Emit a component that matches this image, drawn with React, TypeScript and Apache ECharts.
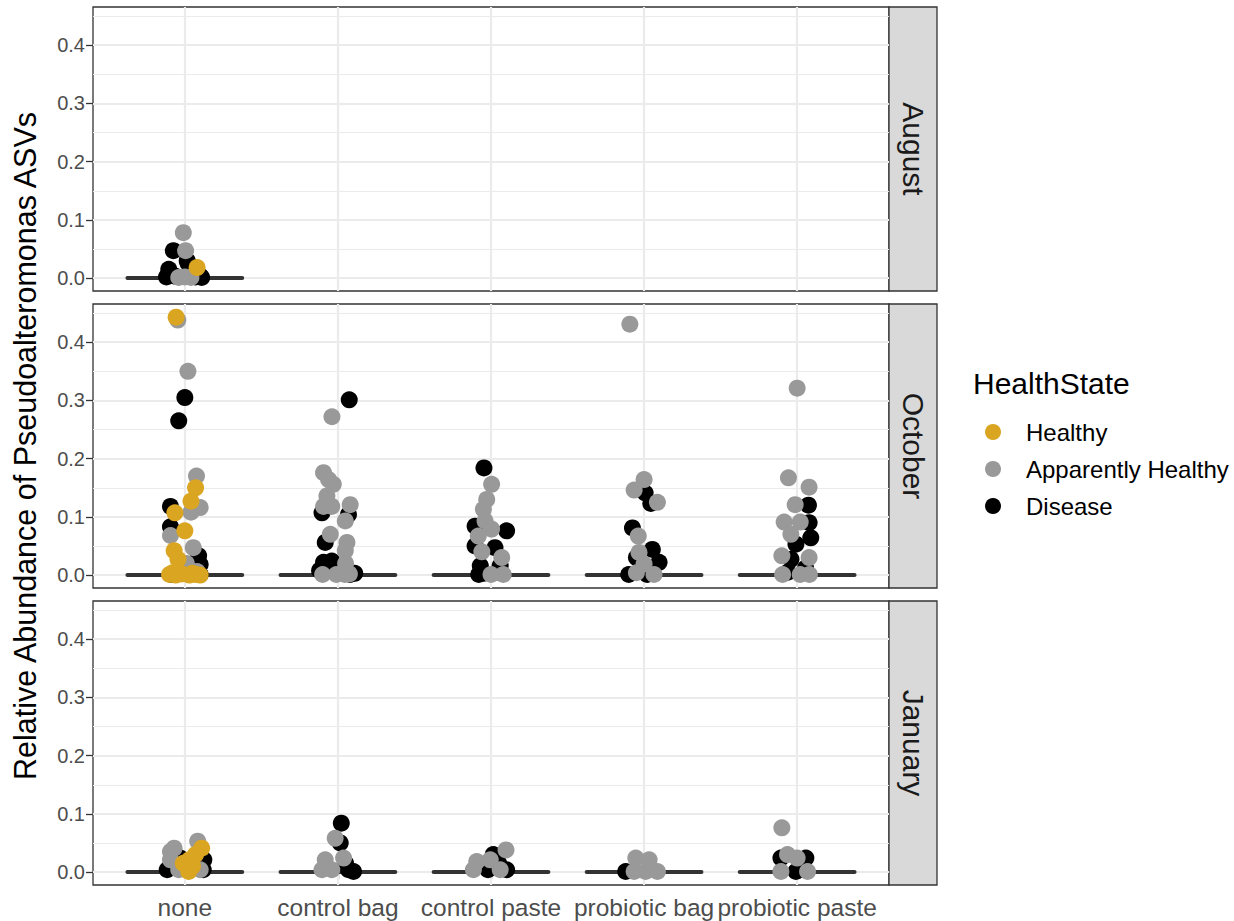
import React, { useEffect, useRef } from 'react';
import * as echarts from 'echarts';

const FONT = '"Liberation Sans", Arial, Helvetica, sans-serif';

const CATEGORIES = ['none', 'control bag', 'control paste', 'probiotic bag', 'probiotic paste'];
const MONTHS = ['August', 'October', 'January'];
const STATES = ['Healthy', 'Apparently Healthy', 'Disease'];
const STATE_COLORS: Record<string, string> = {
  'Healthy': '#DAA520',
  'Apparently Healthy': '#999999',
  'Disease': '#000000',
};
const Y_TICKS = [0, 0.1, 0.2, 0.3, 0.4];
const Y_MINOR = [0.05, 0.15, 0.25, 0.35, 0.45];

// Each point: [categoryIndex, horizontal jitter (category units), relative abundance]
const AUG_HEALTHY = [[0, 0.08, 0.018]];
const AUG_APPARENT = [[0, -0.01, 0.078], [0, 0.005, 0.047], [0, -0.04, 0.001], [0, 0.04, 0.001], [0, 0.0, 0.002]];
const AUG_DISEASE = [[0, -0.075, 0.047], [0, 0.015, 0.030], [0, 0.02, 0.026], [0, -0.105, 0.015], [0, -0.09, 0.006], [0, 0.1, 0.004], [0, -0.12, 0.002], [0, 0.11, 0.001], [0, -0.06, 0.003], [0, 0.07, 0.002]];

const OCT_HEALTHY = [
  [0, -0.057, 0.443], [0, 0.07, 0.150], [0, 0.04, 0.127], [0, -0.065, 0.107], [0, 0.0, 0.076], [0, -0.07, 0.042],
  [0, -0.045, 0.027], [0, -0.1, 0.001], [0, -0.06, 0.0], [0, -0.02, 0.002], [0, 0.03, 0.0], [0, 0.07, 0.001],
  [0, 0.1, 0.0], [0, -0.08, 0.004], [0, 0.05, 0.003],
];
const OCT_APPARENT = [
  [0, -0.046, 0.438], [0, 0.02, 0.350], [0, 0.076, 0.170], [0, 0.1, 0.116], [0, 0.04, 0.108], [0, -0.094, 0.068],
  [0, 0.055, 0.047], [0, 0.03, 0.001], [0, 0.08, 0.006], [0, 0.01, 0.02],
  [1, -0.039, 0.272], [1, -0.094, 0.176], [1, -0.061, 0.164], [1, -0.03, 0.156], [1, -0.072, 0.136], [1, -0.094, 0.118],
  [1, -0.04, 0.118], [1, 0.08, 0.121], [1, 0.048, 0.093], [1, -0.05, 0.070], [1, 0.059, 0.056], [1, 0.048, 0.042],
  [1, 0.05, 0.02], [1, -0.1, 0.001], [1, -0.01, 0.001], [1, 0.045, 0.001], [1, 0.075, 0.002],
  [2, 0.004, 0.156], [2, -0.028, 0.130], [2, -0.05, 0.113], [2, -0.039, 0.093], [2, 0.004, 0.079], [2, -0.083, 0.067],
  [2, 0.07, 0.030], [2, 0.0, 0.001], [2, 0.08, 0.001], [2, -0.06, 0.04],
  [3, -0.093, 0.431], [3, 0.0, 0.164], [3, -0.065, 0.146], [3, 0.087, 0.125], [3, -0.038, 0.067], [3, -0.033, 0.039],
  [3, 0.0, 0.019], [3, 0.065, 0.001], [3, -0.05, 0.004],
  [4, 0.0, 0.321], [4, -0.057, 0.167], [4, 0.078, 0.151], [4, -0.013, 0.121], [4, -0.085, 0.091], [4, 0.02, 0.091],
  [4, -0.041, 0.070], [4, -0.1, 0.033], [4, 0.078, 0.030], [4, -0.095, 0.001], [4, 0.02, 0.001], [4, 0.08, 0.001],
];
const OCT_DISEASE = [
  [0, 0.0, 0.305], [0, -0.04, 0.265], [0, -0.094, 0.118], [0, -0.094, 0.083], [0, 0.09, 0.033], [0, 0.1, 0.018],
  [0, -0.09, 0.001], [0, 0.1, 0.001], [0, 0.06, 0.005],
  [1, 0.074, 0.301], [1, -0.104, 0.107], [1, 0.069, 0.104], [1, -0.083, 0.056], [1, -0.094, 0.022], [1, -0.04, 0.024],
  [1, -0.12, 0.008], [1, 0.11, 0.003], [1, -0.03, 0.007], [1, 0.08, 0.001],
  [2, -0.046, 0.184], [2, -0.104, 0.084], [2, 0.102, 0.076], [2, -0.104, 0.050], [2, 0.026, 0.047], [2, -0.07, 0.016],
  [2, 0.06, 0.016], [2, -0.08, 0.001], [2, -0.05, 0.003], [2, 0.05, 0.005],
  [3, 0.007, 0.141], [3, 0.044, 0.123], [3, -0.076, 0.081], [3, 0.054, 0.044], [3, -0.05, 0.030], [3, 0.098, 0.022],
  [3, -0.1, 0.001], [3, 0.02, 0.001], [3, 0.05, 0.005], [3, -0.02, 0.01],
  [4, 0.074, 0.120], [4, 0.078, 0.090], [4, 0.089, 0.064], [4, -0.008, 0.053], [4, -0.04, 0.027], [4, 0.055, 0.012],
  [4, -0.06, 0.005], [4, 0.06, 0.004],
];

const JAN_HEALTHY = [[0, 0.11, 0.041], [0, 0.07, 0.030], [0, 0.03, 0.021], [0, -0.01, 0.015], [0, 0.025, 0.001], [0, 0.05, 0.01]];
const JAN_APPARENT = [
  [0, 0.084, 0.053], [0, -0.094, 0.035], [0, -0.07, 0.041], [0, -0.094, 0.021], [0, -0.04, 0.004], [0, 0.1, 0.004],
  [1, -0.018, 0.058], [1, -0.083, 0.021], [1, 0.037, 0.024], [1, -0.104, 0.004], [1, -0.04, 0.004],
  [2, 0.098, 0.038], [2, -0.093, 0.018], [2, -0.005, 0.021], [2, -0.115, 0.004], [2, 0.06, 0.004],
  [3, -0.054, 0.024], [3, 0.033, 0.021], [3, -0.065, 0.001], [3, 0.01, 0.001], [3, 0.087, 0.001],
  [4, -0.1, 0.076], [4, -0.063, 0.030], [4, 0.0, 0.024], [4, -0.106, 0.001], [4, 0.068, 0.001],
];
const JAN_DISEASE = [
  [0, -0.03, 0.024], [0, 0.124, 0.021], [0, -0.115, 0.004], [0, 0.12, 0.004], [0, 0.08, 0.012],
  [1, 0.022, 0.084], [1, 0.015, 0.050], [1, 0.05, 0.015], [1, 0.069, 0.004], [1, 0.102, 0.001],
  [2, 0.015, 0.030], [2, 0.05, 0.015], [2, -0.02, 0.004], [2, 0.102, 0.004],
  [3, -0.12, 0.001],
  [4, -0.106, 0.024], [4, 0.057, 0.024], [4, -0.008, 0.001], [4, 0.02, 0.004],
];

// median per category (null = no data)
const AUG_MEDIAN = [0, null, null, null, null];
const OCT_MEDIAN = [0, 0, 0, 0, 0];
const JAN_MEDIAN = [0, 0, 0, 0, 0];

const PANELS = [
  { month: MONTHS[0], data: { 'Healthy': AUG_HEALTHY, 'Apparently Healthy': AUG_APPARENT, 'Disease': AUG_DISEASE }, median: AUG_MEDIAN },
  { month: MONTHS[1], data: { 'Healthy': OCT_HEALTHY, 'Apparently Healthy': OCT_APPARENT, 'Disease': OCT_DISEASE }, median: OCT_MEDIAN },
  { month: MONTHS[2], data: { 'Healthy': JAN_HEALTHY, 'Apparently Healthy': JAN_APPARENT, 'Disease': JAN_DISEASE }, median: JAN_MEDIAN },
];

const LEFT = 93;
const WIDTH = 796;
const TOPS = [7, 304, 601];
const HEIGHT = 284;
const Y_MIN = -0.0222;
const Y_MAX = 0.4657;
const DRAW_ORDER = ['Disease', 'Apparently Healthy', 'Healthy'];

function buildOption() {
  const grid = PANELS.map((_, i) => ({
    left: LEFT, top: TOPS[i], width: WIDTH, height: HEIGHT,
    show: true, borderColor: '#333333', borderWidth: 1.3, backgroundColor: '#ffffff',
  }));
  const catTicks = CATEGORIES.map((_, i) => i + 1);
  const xAxis = PANELS.map((_, i) => ({
    type: 'value', gridIndex: i, min: 0.4, max: 5.6,
    axisLine: { show: false }, splitLine: { show: false },
    axisTick: { show: i === 2, customValues: catTicks, length: 7, lineStyle: { color: '#333333', width: 1.3 } },
    axisLabel: {
      show: i === 2, customValues: catTicks, margin: 10,
      formatter: (v: number) => CATEGORIES[Math.round(v) - 1] ?? '',
      fontSize: 24.5, color: '#4d4d4d', fontFamily: FONT,
    },
  }));
  const yAxis = PANELS.map((_, i) => ({
    type: 'value', gridIndex: i, min: Y_MIN, max: Y_MAX,
    axisLine: { show: false }, splitLine: { show: false },
    axisTick: { show: true, customValues: Y_TICKS, length: 7, lineStyle: { color: '#333333', width: 1.3 } },
    axisLabel: {
      show: true, customValues: Y_TICKS, margin: 8,
      formatter: (v: number) => v.toFixed(1),
      fontSize: 20, color: '#4d4d4d', fontFamily: FONT,
    },
  }));

  const series: any[] = [];
  PANELS.forEach((p, i) => {
    const gridLines: any[] = [];
    Y_MINOR.forEach(v => gridLines.push({ yAxis: v, lineStyle: { color: '#ebebeb', width: 1.1, type: 'solid' } }));
    Y_TICKS.forEach(v => gridLines.push({ yAxis: v, lineStyle: { color: '#ebebeb', width: 2.2, type: 'solid' } }));
    catTicks.forEach(v => gridLines.push({ xAxis: v, lineStyle: { color: '#ebebeb', width: 2.2, type: 'solid' } }));
    series.push({
      type: 'scatter', xAxisIndex: i, yAxisIndex: i, data: [], silent: true, z: 1,
      markLine: { z: 1, silent: true, symbol: ['none', 'none'], label: { show: false }, data: gridLines, animation: false },
    });
    const medLines = p.median
      .map((m, c) => (m === null ? null : [{ coord: [c + 1 - 0.375, m] }, { coord: [c + 1 + 0.375, m] }]))
      .filter(Boolean);
    series.push({
      type: 'scatter', xAxisIndex: i, yAxisIndex: i, data: [], silent: true, z: 2,
      markLine: {
        z: 2, silent: true, symbol: ['none', 'none'], label: { show: false }, animation: false,
        lineStyle: { color: '#333333', width: 4, type: 'solid', cap: 'round' },
        data: medLines,
      },
    });
    DRAW_ORDER.forEach(state => {
      const arr = (p.data as any)[state] as number[][];
      series.push({
        type: 'scatter', name: state, xAxisIndex: i, yAxisIndex: i, z: 3,
        symbol: 'circle', symbolSize: 17,
        itemStyle: { color: STATE_COLORS[state], opacity: 1 },
        data: arr.map(([c, j, v]) => [c + 1 + j, v]),
      });
    });
  });

  const graphic: any[] = [
    {
      type: 'text', x: 25, y: 446, rotation: Math.PI / 2,
      style: {
        text: 'Relative Abundance of Pseudoalteromonas ASVs', fill: '#000000',
        font: `30.5px ${FONT}`, align: 'center', verticalAlign: 'middle',
      },
    },
    {
      type: 'text', x: 973, y: 383,
      style: { text: 'HealthState', fill: '#000000', font: `30px ${FONT}`, align: 'left', verticalAlign: 'middle' },
    },
  ];
  PANELS.forEach((p, i) => {
    graphic.push({
      type: 'rect', shape: { x: LEFT + WIDTH, y: TOPS[i], width: 48, height: HEIGHT },
      style: { fill: '#d9d9d9', stroke: '#333333', lineWidth: 1.3 },
    });
    graphic.push({
      type: 'text', x: LEFT + WIDTH + 24, y: TOPS[i] + HEIGHT / 2, rotation: -Math.PI / 2,
      style: { text: p.month, fill: '#1a1a1a', font: `30px ${FONT}`, align: 'center', verticalAlign: 'middle' },
    });
  });

  return {
    animation: false,
    backgroundColor: '#ffffff',
    grid, xAxis, yAxis, series, graphic,
    legend: {
      data: STATES.map(s => ({ name: s, icon: 'circle' })),
      orient: 'vertical', left: 985, top: 420, padding: 0,
      itemWidth: 16, itemHeight: 16, itemGap: 13, selectedMode: false,
      textStyle: { fontSize: 24, color: '#000000', fontFamily: FONT, lineHeight: 24, padding: [0, 0, 0, 20] },
    },
  };
}

export default function App() {
  const ref = useRef<HTMLDivElement>(null);
  useEffect(() => {
    if (!ref.current) return;
    const chart = echarts.init(ref.current, undefined, { renderer: 'svg' });
    chart.setOption(buildOption() as any);
    return () => chart.dispose();
  }, []);
  return (
    <div
      ref={ref}
      style={{ position: 'fixed', left: 0, top: 0, width: 1234, height: 921, background: '#ffffff' }}
    />
  );
}
